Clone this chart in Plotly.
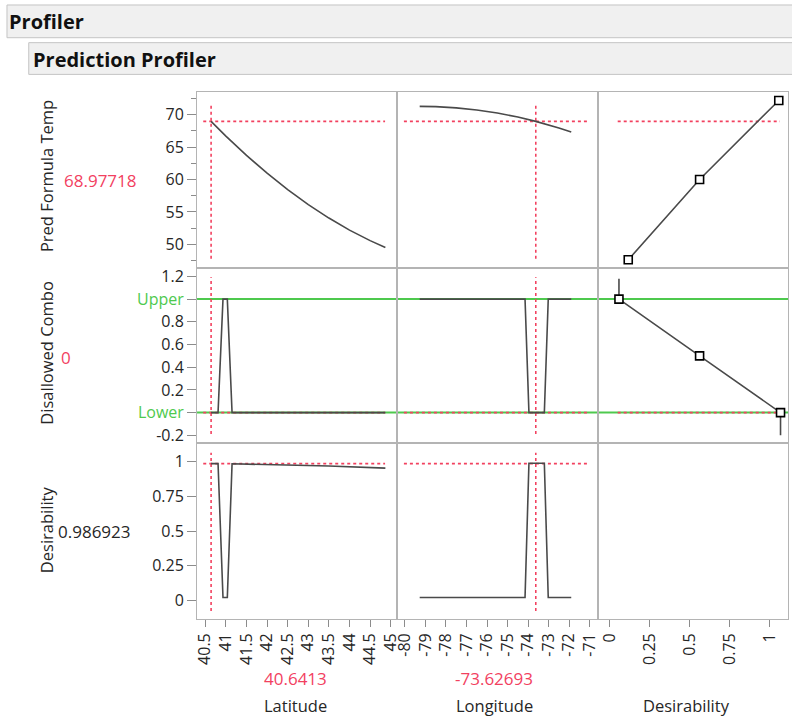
import plotly.graph_objects as go

# ---------------- data ----------------
cur_lat = 40.6413
cur_lon = -73.62693
cur_temp = 68.97718
cur_combo = 0
cur_desir = 0.986923

lat_grid = [40.6413, 41.0, 41.5, 42.0, 42.5, 43.0, 43.5, 44.0, 44.5, 44.87]
temp_vs_lat = [68.98, 66.70, 63.72, 60.97, 58.44, 56.13, 54.05, 52.19, 50.56, 49.50]

lon_grid = [-79.28, -78.5, -77.5, -76.5, -75.5, -74.5, -73.627, -73.0, -72.5, -71.90]
temp_vs_lon = [71.29, 71.25, 71.06, 70.73, 70.26, 69.64, 68.98, 68.44, 67.96, 67.34]

combo_lat_x = [40.6413, 40.81, 40.93, 41.035, 41.15, 44.87]
combo_lat_y = [0, 0, 1, 1, 0, 0]

combo_lon_x = [-79.28, -74.15, -73.96, -73.21, -73.02, -71.90]
combo_lon_y = [1, 1, 0, 0, 1, 1]

desir_lat_x = [40.6413, 40.81, 40.93, 41.035, 41.15, 42.5, 43.5, 44.87]
desir_lat_y = [0.987, 0.987, 0.02, 0.02, 0.986, 0.978, 0.970, 0.955]

desir_lon_x = [-79.28, -74.15, -73.96, -73.21, -73.02, -71.90]
desir_lon_y = [0.02, 0.02, 0.99, 0.99, 0.02, 0.02]

temp_handle_d = [0.117, 0.563, 1.058]
temp_handle_v = [47.6, 60.0, 72.2]

combo_handle_d = [0.059, 0.563, 1.069]
combo_handle_v = [1.0, 0.5, 0.0]
combo_stub_top = 1.18
combo_stub_bottom = -0.2

lat_ticks = [40.5, 41, 41.5, 42, 42.5, 43, 43.5, 44, 44.5, 45]
lat_ticktext = ["40.5", "41", "41.5", "42", "42.5", "43", "43.5", "44", "44.5", "45"]
lon_ticks = [-80, -79, -78, -77, -76, -75, -74, -73, -72, -71]
lon_ticktext = ["-80", "-79", "-78", "-77", "-76", "-75", "-74", "-73", "-72", "-71"]
des_ticks = [0, 0.25, 0.5, 0.75, 1]
des_ticktext = ["0", "0.25", "0.5", "0.75", "1"]
temp_ticks = [50, 55, 60, 65, 70]
combo_ticks = [-0.2, 0, 0.2, 0.4, 0.6, 0.8, 1.0, 1.2]
combo_ticktext = ["-0.2", "Lower", "0.2", "0.4", "0.6", "0.8", "Upper", "1.2"]
desir_ticks = [0, 0.25, 0.5, 0.75, 1]
desir_ticktext = ["0", "0.25", "0.5", "0.75", "1"]

row_titles = ["Pred Formula Temp", "Disallowed Combo", "Desirability"]
col_titles = ["Latitude", "Longitude", "Desirability"]

# ---------------- styling / layout ----------------
W, H = 792, 723
FONT = "Open Sans"
TXT = "#262626"
RED = "#f2415f"
GREEN = "#4ec94e"
FRAME = "#b4b4b4"
TICKC = "#8c8c8c"
CURVE = "#4a4a4a"


def px(x):
    return x / W


def py(y):
    return 1 - y / H


col_px = [(195, 397.3), (397.3, 600), (600, 792)]
row_px = [(89.5, 267), (267, 443.5), (443.5, 621)]
xranges = [[40.30, 45.159], [-80.371, -70.60], [-0.0724, 1.1157]]
yranges = [[46.37, 73.55], [-0.266, 1.276], [-0.134, 1.1375]]


def idx(r, c):
    return r * 3 + c + 1


def xname(r, c):
    k = idx(r, c)
    return "x" if k == 1 else f"x{k}"


def yname(r, c):
    k = idx(r, c)
    return "y" if k == 1 else f"y{k}"


fig = go.Figure()


def add_line(r, c, xs, ys):
    fig.add_trace(go.Scatter(x=xs, y=ys, mode="lines",
                             line=dict(color=CURVE, width=1.6),
                             xaxis=xname(r, c), yaxis=yname(r, c),
                             showlegend=False, hoverinfo="skip"))


add_line(0, 0, lat_grid, temp_vs_lat)
add_line(0, 1, lon_grid, temp_vs_lon)
add_line(1, 0, combo_lat_x, combo_lat_y)
add_line(1, 1, combo_lon_x, combo_lon_y)
add_line(2, 0, desir_lat_x, desir_lat_y)
add_line(2, 1, desir_lon_x, desir_lon_y)

# desirability function panels
add_line(0, 2, temp_handle_d, temp_handle_v)
add_line(1, 2,
         [combo_handle_d[0]] + combo_handle_d + [combo_handle_d[-1]],
         [combo_stub_top] + combo_handle_v + [combo_stub_bottom])
for r, xs, ys in [(0, temp_handle_d, temp_handle_v), (1, combo_handle_d, combo_handle_v)]:
    fig.add_trace(go.Scatter(x=xs, y=ys, mode="markers",
                             marker=dict(symbol="square", size=8, color="white",
                                         line=dict(color="black", width=1.6)),
                             xaxis=xname(r, 2), yaxis=yname(r, 2),
                             showlegend=False, hoverinfo="skip", cliponaxis=False))
# the bottom-right (desirability x desirability) cell is empty in the reference;
# an empty trace makes Plotly build its frame and axis
fig.add_trace(go.Scatter(x=[], y=[], mode="lines", xaxis=xname(2, 2), yaxis=yname(2, 2),
                         showlegend=False, hoverinfo="skip"))

layout = dict(width=W, height=H, autosize=False,
              margin=dict(l=0, r=0, t=0, b=0),
              paper_bgcolor="white", plot_bgcolor="rgba(0,0,0,0)",
              font=dict(family=FONT, size=16, color=TXT))

for r in range(3):
    for c in range(3):
        k = idx(r, c)
        xk = "xaxis" if k == 1 else f"xaxis{k}"
        yk = "yaxis" if k == 1 else f"yaxis{k}"
        xa = dict(domain=[px(col_px[c][0]), px(col_px[c][1])], range=xranges[c],
                  anchor=yname(r, c), showgrid=False, zeroline=False,
                  showline=True, linecolor=FRAME, linewidth=1, mirror=True,
                  fixedrange=True)
        ya = dict(domain=[py(row_px[r][1]), py(row_px[r][0])], range=yranges[r],
                  anchor=xname(r, c), showgrid=False, zeroline=False,
                  showline=True, linecolor=FRAME, linewidth=1, mirror=True,
                  fixedrange=True)
        if r == 2:
            tv, tt = [(lat_ticks, lat_ticktext), (lon_ticks, lon_ticktext),
                      (des_ticks, des_ticktext)][c]
            xa.update(tickmode="array", tickvals=tv, ticktext=tt, ticks="outside",
                      ticklen=7, tickcolor=TICKC, tickangle=-90,
                      tickfont=dict(family=FONT, size=16, color=TXT))
        else:
            xa.update(showticklabels=False, ticks="")
        if c == 0:
            if r == 0:
                ya.update(tickmode="array", tickvals=temp_ticks,
                          minor=dict(ticks="outside", ticklen=5, dtick=2.5,
                                     tickcolor=TICKC, showgrid=False))
            elif r == 1:
                txt = [f'<span style="color:{GREEN}">{t}</span>' if t in ("Upper", "Lower") else t
                       for t in combo_ticktext]
                ya.update(tickmode="array", tickvals=combo_ticks, ticktext=txt)
            else:
                ya.update(tickmode="array", tickvals=desir_ticks, ticktext=desir_ticktext)
            ya.update(ticks="outside", ticklen=9, tickcolor=TICKC,
                      tickfont=dict(family=FONT, size=16, color=TXT))
        else:
            ya.update(showticklabels=False, ticks="")
        layout[xk] = xa
        layout[yk] = ya

fig.update_layout(**layout)

shapes = []
# header bars
shapes.append(dict(type="rect", xref="paper", yref="paper",
                   x0=px(3), x1=px(800), y0=py(35), y1=py(2),
                   fillcolor="#f0f0f0", line=dict(color="#c4c4c4", width=1), layer="below"))
shapes.append(dict(type="rect", xref="paper", yref="paper",
                   x0=px(25), x1=px(800), y0=py(72), y1=py(40),
                   fillcolor="#f0f0f0", line=dict(color="#c4c4c4", width=1), layer="below"))
# Upper / Lower limits across the whole second row
for lim in (1.0, 0.0):
    shapes.append(dict(type="line", xref="paper", yref=yname(1, 0),
                       x0=px(195), x1=1, y0=lim, y1=lim,
                       line=dict(color=GREEN, width=2), layer="below"))
# horizontal red dotted reference lines (current response values)
hspans = [(0.031, 0.939), (0.033, 0.946), (0.104, 0.958)]
cur_vals = [cur_temp, cur_combo, cur_desir]
for r in range(3):
    for c in range(3):
        if r == 2 and c == 2:
            continue
        shapes.append(dict(type="line", xref=f"{xname(r, c)} domain", yref=yname(r, c),
                           x0=hspans[c][0], x1=hspans[c][1], y0=cur_vals[r], y1=cur_vals[r],
                           line=dict(color=RED, width=1.6, dash="dot"), layer="below"))
# vertical red dotted lines (current factor values)
vspans = [(0.052, 0.938), (0.051, 0.946), (0.045, 0.944)]
for r in range(3):
    for c, val in [(0, cur_lat), (1, cur_lon)]:
        shapes.append(dict(type="line", xref=xname(r, c), yref=f"{yname(r, c)} domain",
                           x0=val, x1=val, y0=vspans[r][0], y1=vspans[r][1],
                           line=dict(color=RED, width=1.6, dash="dot"), layer="below"))
fig.update_layout(shapes=shapes)

ann = []
ann.append(dict(text="<b>Profiler</b>", x=px(3), y=py(18.5), xref="paper", yref="paper",
                xanchor="left", yanchor="middle", showarrow=False,
                font=dict(family=FONT, size=20, color="#111")))
ann.append(dict(text="<b>Prediction Profiler</b>", x=px(27), y=py(57), xref="paper", yref="paper",
                xanchor="left", yanchor="middle", showarrow=False,
                font=dict(family=FONT, size=20, color="#111")))
row_title_y = [175, 353, 531]
row_val_pos = [(97, 179, f"{cur_temp:.5f}", RED), (63, 357, f"{cur_combo}", RED),
               (91, 533, f"{cur_desir:.6f}", TXT)]
for t, yy in zip(row_titles, row_title_y):
    ann.append(dict(text=t, x=px(43), y=py(yy), xref="paper", yref="paper",
                    textangle=-90, xanchor="center", yanchor="middle", showarrow=False,
                    font=dict(family=FONT, size=16.5, color=TXT)))
for xx, yy, t, colr in row_val_pos:
    ann.append(dict(text=t, x=px(xx), y=py(yy), xref="paper", yref="paper",
                    xanchor="center", yanchor="middle", showarrow=False,
                    font=dict(family=FONT, size=17, color=colr)))
col_center = [294, 495, 689]
col_vals = [f"{cur_lat:.4f}", f"{cur_lon:.5f}", None]
for t, xx, v in zip(col_titles, col_center, col_vals):
    ann.append(dict(text=t, x=px(xx), y=py(708), xref="paper", yref="paper",
                    xanchor="center", yanchor="middle", showarrow=False,
                    font=dict(family=FONT, size=16.5, color=TXT)))
    if v is not None:
        ann.append(dict(text=v, x=px(xx), y=py(681), xref="paper", yref="paper",
                        xanchor="center", yanchor="middle", showarrow=False,
                        font=dict(family=FONT, size=17, color=RED)))
fig.update_layout(annotations=ann)

fig.write_html("out.html", config={"displayModeBar": False},
               post_script="document.body.style.margin='0px';document.body.style.overflow='hidden';")
